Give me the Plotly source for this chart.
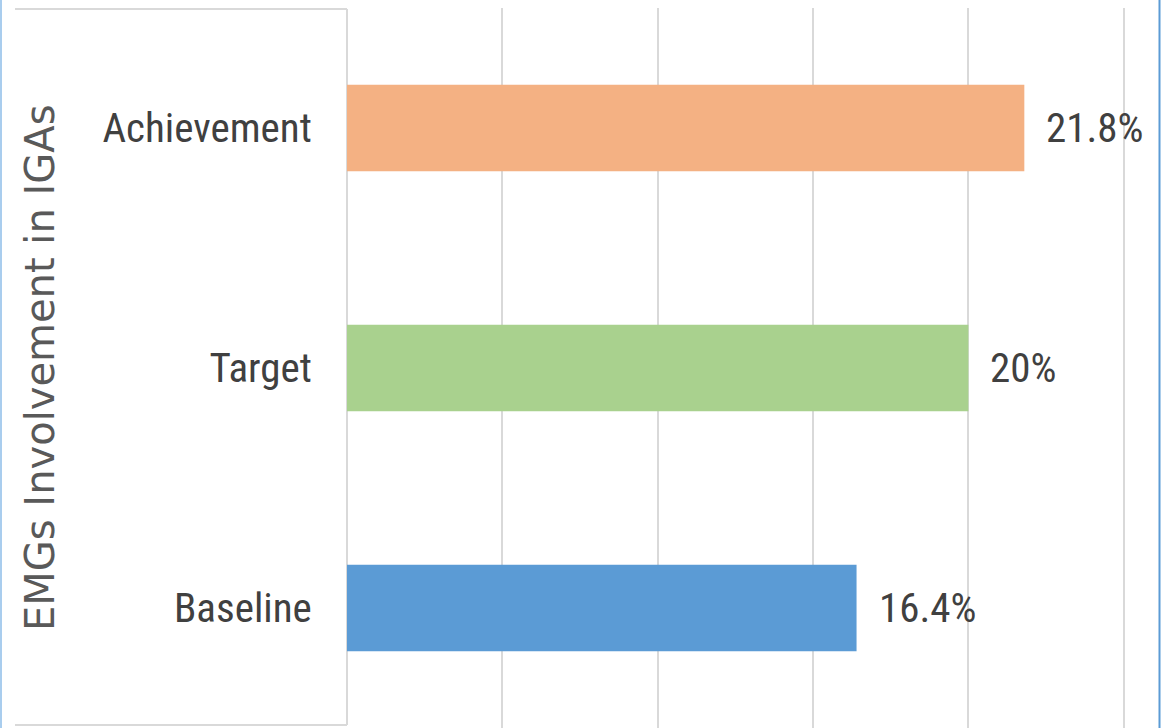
import plotly.graph_objects as go

categories = ["Baseline", "Target", "Achievement"]
values = [16.4, 20.0, 21.8]
labels = ["16.4%", "20%", "21.8%"]
colors = ["#5B9BD5", "#A9D18E", "#F4B183"]
axis_title = "EMGs Involvement in IGAs"

W, H = 1168, 728
L, R, T, B = 347, 8, 8, 0
pw = W - L - R
ph = H - T - B

narrow = "Liberation Sans Narrow, Arial Narrow, Roboto Condensed, sans-serif"
txtcol = "#404040"

fig = go.Figure()
fig.add_trace(go.Bar(
    y=categories, x=values, orientation="h",
    marker=dict(color=colors, line=dict(width=0)),
    width=0.36, hoverinfo="skip",
))

for c, v, t in zip(categories, values, labels):
    fig.add_annotation(x=v, y=c, text=t, showarrow=False, xanchor="left",
                       yanchor="middle", xshift=20,
                       font=dict(family=narrow, size=41, color=txtcol))

fig.add_annotation(xref="paper", yref="paper", x=(40 - L) / pw, y=0.5,
                   text=axis_title, textangle=-90, showarrow=False,
                   xanchor="center", yanchor="middle",
                   font=dict(family="DejaVu Sans", size=40, color="#595959"))

# label box (top, bottom, right edges)
box_col = "#d9d9d9"
bx0 = (15 - L) / pw
ytop = (H - B - 9) / ph
ybot = (H - B - 725) / ph
for (xa, ya, xb, yb) in [(bx0, ytop, 0, ytop), (bx0, ybot, 0, ybot), (0, ybot, 0, ytop)]:
    fig.add_shape(type="line", xref="paper", yref="paper", x0=xa, y0=ya, x1=xb, y1=yb,
                  line=dict(color=box_col, width=2), layer="below")
# outer blue edges
fig.add_shape(type="line", xref="paper", yref="paper",
              x0=(1 - L) / pw, x1=(1 - L) / pw, y0=-0.1, y1=1.1,
              line=dict(color="#a9cdee", width=2))
fig.add_shape(type="line", xref="paper", yref="paper",
              x0=(1159.5 - L) / pw, x1=(1159.5 - L) / pw, y0=-0.1, y1=1.1,
              line=dict(color="#5B9BD5", width=2))

fig.update_layout(
    width=W, height=H,
    margin=dict(l=L, r=R, t=T, b=B, pad=0),
    paper_bgcolor="white", plot_bgcolor="white",
    showlegend=False, bargap=0.64,
    xaxis=dict(range=[0, (W - L - R) / 31.07], tickvals=[0, 5, 10, 15, 20, 25],
               showticklabels=False, showgrid=True, gridcolor="#d9d9d9", gridwidth=2,
               zeroline=False, showline=False, fixedrange=True),
    yaxis=dict(categoryorder="array", categoryarray=categories,
               range=[-0.5, 2.5],
               ticks="outside", ticklen=26, tickcolor="rgba(0,0,0,0)",
               tickfont=dict(family=narrow, size=41, color=txtcol),
               showline=False, showgrid=False, zeroline=False, fixedrange=True),
)

fig.write_html("out.html", config={"displayModeBar": False},
               post_script="document.body.style.margin='0';document.body.style.overflow='hidden';")
